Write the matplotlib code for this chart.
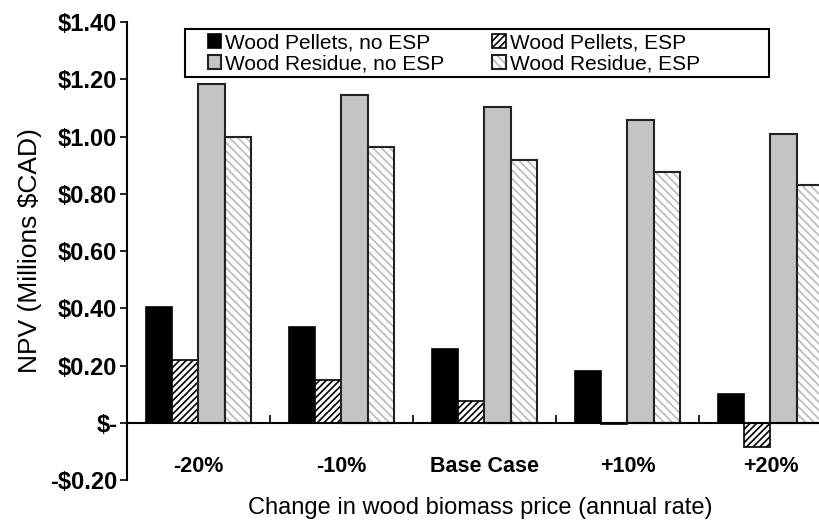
import matplotlib.pyplot as plt
from matplotlib.patches import Rectangle
import numpy as np

categories = ["-20%", "-10%", "Base Case", "+10%", "+20%"]
pellets_no_esp = [0.405, 0.334, 0.257, 0.180, 0.101]
pellets_esp = [0.221, 0.148, 0.077, -0.005, -0.086]
residue_no_esp = [1.185, 1.145, 1.103, 1.056, 1.010]
residue_esp = [1.000, 0.963, 0.919, 0.876, 0.830]

plt.rcParams['font.family'] = ['Liberation Sans', 'DejaVu Sans']
plt.rcParams['hatch.linewidth'] = 1.2

W, H = 819, 523
fig = plt.figure(figsize=(8.19, 5.23), dpi=100)
ax = fig.add_axes([127 / W, 0.0822, 0.873, 0.8757])

x = np.arange(len(categories))
w = 0.182
h0 = ax.bar(x - 1.5 * w, pellets_no_esp, w, color='black', edgecolor='black', linewidth=1.2)
h1 = ax.bar(x - 0.5 * w, pellets_esp, w, color='white', edgecolor='black', hatch='/////',
            linewidth=1.2)
h2 = ax.bar(x + 0.5 * w, residue_no_esp, w, color='#c4c4c4', edgecolor='#222222', linewidth=1.5)
h3a = ax.bar(x + 1.5 * w, residue_esp, w, color='white', edgecolor='#bbbbbb', hatch='\\\\\\\\',
             linewidth=0)
# black outline drawn separately so hatch stays light grey
h3b = ax.bar(x + 1.5 * w, residue_esp, w, fill=False, edgecolor='#222222', linewidth=1.5)

ax.set_xlim(-0.5, 4.5)
ax.set_ylim(-0.2, 1.4)
yt = np.arange(-0.2, 1.41, 0.2)
ax.set_yticks(yt)
labs = []
for v in yt:
    if abs(v) < 1e-9:
        labs.append('$-')
    elif v < 0:
        labs.append('-$%.2f' % -v)
    else:
        labs.append('$%.2f' % v)
ax.set_yticklabels(labs, fontsize=17, fontweight='bold')

ax.spines['top'].set_visible(False)
ax.spines['right'].set_visible(False)
ax.spines['bottom'].set_position(('data', 0))
ax.spines['left'].set_linewidth(1.5)
ax.spines['bottom'].set_linewidth(1.5)
ax.tick_params(axis='y', direction='out', length=5, width=1.2, pad=2)

ax.set_xticks(x)
ax.set_xticklabels(categories, fontsize=15.5, fontweight='bold')
ax.tick_params(axis='x', which='major', length=0, pad=24)
ax.set_xticks(np.arange(0.5, 4.5, 1), minor=True)
ax.tick_params(axis='x', which='minor', direction='in', length=6, width=1.2)

ax.set_ylabel('NPV (Millions $CAD)', fontsize=19, labelpad=6)
fig.text(0.586, 0.029, 'Change in wood biomass price (annual rate)', fontsize=17,
         ha='center', va='center')

# legend frame: box drawn separately, wider on the right like the original
ax.add_patch(Rectangle((185 / W, 1 - 77 / H), (769 - 185) / W, 48 / H,
                       transform=fig.transFigure, facecolor='white', clip_on=False,
                       edgecolor='black', linewidth=1.5, zorder=4))
handles = [h0, h2, h1, (h3a, h3b)]
names = ['Wood Pellets, no ESP', 'Wood Residue, no ESP', 'Wood Pellets, ESP', 'Wood Residue, ESP']
leg = ax.legend(handles, names, ncol=2, loc='upper left', bbox_to_anchor=(205 / W, 1 - 31 / H),
                bbox_transform=fig.transFigure, fontsize=15, frameon=False,
                handlelength=0.65, handleheight=0.65, handletextpad=0.2,
                columnspacing=2.3, borderpad=0.12, labelspacing=0.08, borderaxespad=0)
leg.set_zorder(5)

fig.savefig('out.png', dpi=100)
